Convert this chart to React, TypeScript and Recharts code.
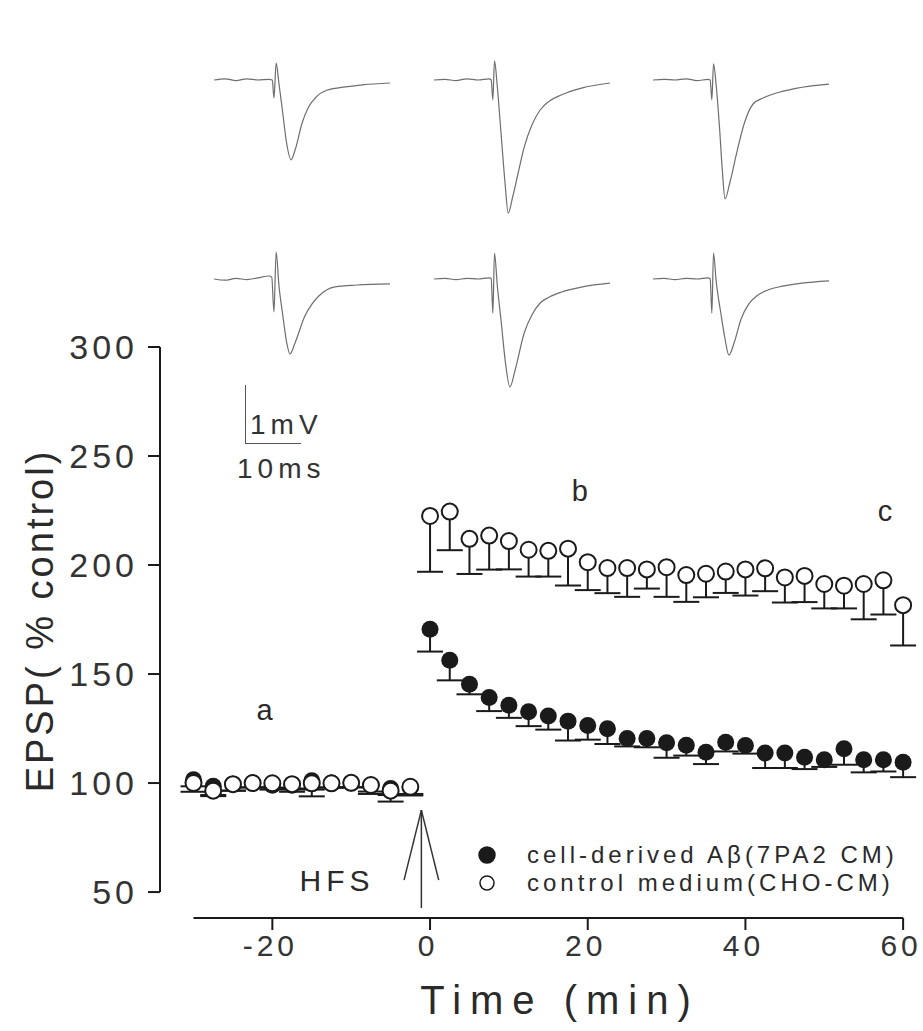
import React from "react"
import {
  ErrorBar,
  Legend,
  Line,
  LineChart,
  ReferenceDot,
  ReferenceLine,
  Scatter,
  ScatterChart,
  XAxis,
  YAxis,
} from "recharts"

const FONT = '"Liberation Sans", Arial, sans-serif'
const INK = "#1a1a1a"

// time points (min) relative to HFS
const minutes = [
  -30, -27.5, -25, -22.5, -20, -17.5, -15, -12.5, -10, -7.5, -5, -2.5,
  0, 2.5, 5, 7.5, 10, 12.5, 15, 17.5, 20, 22.5, 25, 27.5, 30, 32.5, 35, 37.5,
  40, 42.5, 45, 47.5, 50, 52.5, 55, 57.5, 60,
]

// cell-derived Abeta (7PA2 CM), filled circles
const abMean = [
  101.5, 98.5, 99.5, 100, 99, 99, 101, 100, 100, 99, 97.5, 98,
  170.5, 156.3, 145.3, 139.2, 135.7, 132.7, 130.7, 128.4, 126.4, 124.9, 120.4,
  120.4, 118.5, 117.3, 114.1, 118.7, 117.2, 113.8, 113.8, 111.8, 110.7, 115.7,
  110.7, 110.7, 109.5,
]
const abSem = [
  3, 4, 3, 2, 2, 3, 4, 2, 2, 4, 3, 3,
  10.2, 9.2, 4.6, 6.2, 5.8, 6.6, 6.2, 8.9, 6.5, 7, 3.6, 4, 6.9, 4.7, 5.4, 4.2,
  3.7, 6.9, 6.9, 5.4, 3.3, 7.3, 5.8, 5.4, 6.8,
]

// control medium (CHO-CM), open circles
const choMean = [
  100, 96.5, 99.5, 100, 99.9, 99.5, 99.9, 99.9, 100.1, 99.1, 96.5, 98.3,
  222.5, 224.5, 212, 213.5, 211, 207, 206.5, 207.5, 201.3, 198.6, 198.6, 198,
  199, 195.4, 196, 197, 198, 198.5, 194.3, 195, 191.3, 190.5, 191.3, 193, 181.6,
]
const choSem = [
  4, 2.5, 3, 2, 2, 2, 6, 2, 2, 3, 5, 4,
  25.6, 17.7, 16.1, 15.6, 13, 12.3, 11.8, 16.9, 12.8, 11.5, 13.2, 8.8, 13.6,
  12.3, 10.8, 9.8, 12, 10.5, 11.5, 12, 11.2, 10.4, 16.2, 15.7, 18.5,
]

const xTicks = [-20, 0, 20, 40, 60]
const yTicks = [50, 100, 150, 200, 250, 300]

// example fEPSP traces (ms, mV) at time points a, b, c
const topA = {
  t: [0, 2, 4, 6, 8, 10, 10.6, 10.9, 11.3, 11.8, 12.5, 13.2, 14, 14.8, 16, 17.2, 18.4, 20.5, 23.5, 27, 32],
  v: [0, 0.02, -0.01, 0.02, 0, 0.01, 0, -0.3, 0.28, -0.05, -0.55, -1.05, -1.33, -1.15, -0.72, -0.45, -0.3, -0.17, -0.12, -0.08, -0.05],
}
const topB = {
  t: [0, 2, 4, 6, 8, 10, 10.4, 10.7, 11, 11.5, 12.2, 12.9, 13.5, 14.3, 15.3, 16.4, 17.8, 19.3, 21, 23.1, 27, 32],
  v: [0, 0.01, -0.01, 0.02, 0, 0.02, 0, -0.33, 0.32, -0.1, -0.9, -1.7, -2.22, -1.95, -1.55, -1.12, -0.75, -0.5, -0.35, -0.25, -0.13, -0.05],
}
const topC = {
  t: [0, 2, 4, 6, 8, 10, 10.4, 10.7, 11, 11.5, 12.1, 12.6, 13.1, 14, 15.3, 16.6, 18.2, 20, 22, 26, 32],
  v: [0, 0.01, 0, 0.02, -0.01, 0.01, 0, -0.33, 0.27, -0.1, -0.8, -1.5, -1.98, -1.7, -1.18, -0.72, -0.4, -0.3, -0.23, -0.14, -0.07],
}
const botA = {
  t: [0, 2, 4, 6, 8, 10, 10.5, 10.9, 11.3, 11.8, 12.5, 13.2, 13.8, 14.8, 16.5, 17.8, 19.1, 22, 26, 32],
  v: [0, -0.02, 0.01, -0.01, 0.02, 0.05, 0.03, -0.55, 0.45, -0.1, -0.6, -1.05, -1.25, -1.05, -0.62, -0.42, -0.28, -0.13, -0.1, -0.08],
}
const botB = {
  t: [0, 2, 4, 6, 8, 10, 10.4, 10.7, 11, 11.5, 12.2, 13, 13.8, 14.8, 16.4, 17.8, 19.3, 21, 23.1, 27, 32],
  v: [0, 0.01, -0.01, 0.01, 0, 0.02, 0.01, -0.57, 0.43, -0.1, -0.7, -1.4, -1.8, -1.5, -0.9, -0.6, -0.4, -0.3, -0.22, -0.13, -0.07],
}
const botC = {
  t: [0, 2, 4, 6, 8, 10, 10.4, 10.7, 11, 11.5, 12.3, 13.1, 13.8, 14.8, 16, 17.4, 18.9, 21, 23.5, 27, 32],
  v: [0, 0.01, -0.01, 0.01, 0, 0.02, 0, -0.57, 0.43, -0.05, -0.55, -1, -1.27, -1.05, -0.67, -0.42, -0.28, -0.18, -0.12, -0.07, -0.03],
}

const traces = [
  { trace: topA, left: 214, top: 50 },
  { trace: topB, left: 434, top: 50 },
  { trace: topC, left: 653, top: 50 },
  { trace: botA, left: 214, top: 249 },
  { trace: botB, left: 434, top: 249 },
  { trace: botC, left: 653, top: 249 },
]

// only the lower half of each error bar is drawn
const abData = minutes.map((t, i) => ({ t, y: abMean[i], err: [abSem[i], 0] }))
const choData = minutes.map((t, i) => ({ t, y: choMean[i], err: [choSem[i], 0] }))

const legendItems = [
  { name: "cell-derived Aβ(7PA2 CM)", filled: true },
  { name: "control medium(CHO-CM)", filled: false },
]

function Trace({ trace, left, top }: { trace: { t: number[]; v: number[] }; left: number; top: number }) {
  const data = trace.t.map((t, i) => ({ t, v: trace.v[i] }))
  return (
    <div style={{ position: "absolute", left, top }}>
      <LineChart width={176} height={174} data={data} margin={{ top: 0, right: 0, bottom: 0, left: 0 }}>
        <XAxis dataKey="t" type="number" domain={[0, 32]} hide />
        <YAxis type="number" domain={[-2.4, 0.5]} hide />
        <Line
          dataKey="v"
          type="monotone"
          stroke="#6e6e6e"
          strokeWidth={1.2}
          dot={false}
          isAnimationActive={false}
        />
      </LineChart>
    </div>
  )
}

const filledDot = (p: any) => <circle cx={p.cx} cy={p.cy} r={8.5} fill={INK} />
const openDot = (p: any) => (
  <circle cx={p.cx} cy={p.cy} r={8} fill="#fff" stroke={INK} strokeWidth={2} />
)

const note = (text: string, size: number, spacing = 0) => (p: any) => (
  <text
    x={p.cx}
    y={p.cy}
    textAnchor="middle"
    dominantBaseline="central"
    fontFamily={FONT}
    fontSize={size}
    letterSpacing={spacing}
    fill="#2a2a2a"
  >
    {text}
  </text>
)

// x tick label, nudged so trailing letter-spacing does not shift it
const XTick = (p: any) => (
  <text
    x={p.x - 2}
    y={p.y + 24}
    textAnchor="middle"
    fontFamily={FONT}
    fontSize={30}
    letterSpacing={4}
    fill="#333"
  >
    {p.payload.value}
  </text>
)

function LegendBox() {
  return (
    <div style={{ fontFamily: FONT, fontSize: 24, letterSpacing: 4, color: "#2a2a2a", lineHeight: "28px" }}>
      {legendItems.map((item) => (
        <div key={item.name} style={{ display: "flex", alignItems: "center" }}>
          <svg width={52} height={28}>
            <circle
              cx={12}
              cy={14}
              r={item.filled ? 8 : 7}
              fill={item.filled ? INK : "#fff"}
              stroke={INK}
              strokeWidth={1.5}
            />
          </svg>
          <span>{item.name}</span>
        </div>
      ))}
    </div>
  )
}

export default function App() {
  const yTickStyle = { fontSize: 34, fill: "#333", fontFamily: FONT, letterSpacing: 4 }
  return (
    <div style={{ position: "absolute", left: 0, top: 0, width: 923, height: 1031, background: "#fff" }}>
      <style>{`.recharts-errorBar > line:nth-of-type(1) { display: none; }`}</style>
      {traces.map((tr, i) => (
        <Trace key={i} {...tr} />
      ))}

      {/* scale bar for traces */}
      <div
        style={{
          position: "absolute",
          left: 245,
          top: 385,
          width: 55,
          height: 58,
          borderLeft: "1.5px solid #555",
          borderBottom: "1.5px solid #555",
        }}
      />
      <div style={{ position: "absolute", left: 250, top: 409, fontFamily: FONT, fontSize: 28, letterSpacing: 5, color: "#333" }}>
        1mV
      </div>
      <div style={{ position: "absolute", left: 237, top: 453, fontFamily: FONT, fontSize: 28, letterSpacing: 5, color: "#333" }}>
        10ms
      </div>

      <div style={{ position: "absolute", left: 0, top: 0 }}>
        <ScatterChart width={923} height={1031} margin={{ top: 347, right: 12, bottom: 53, left: 60 }}>
          <XAxis
            dataKey="t"
            type="number"
            domain={[-34.25, 61]}
            ticks={xTicks}
            axisLine={false}
            tickSize={12}
            tickLine={{ stroke: INK, strokeWidth: 2 }}
            tick={XTick}
            height={60}
            label={(p: any) => {
              const vb = p.viewBox
              return (
                <text
                  x={vb.x + 400}
                  y={vb.y + 96}
                  textAnchor="middle"
                  fontFamily={FONT}
                  fontSize={40}
                  letterSpacing={9}
                  fill="#2a2a2a"
                >
                  Time (min)
                </text>
              )
            }}
          />
          <YAxis
            dataKey="y"
            type="number"
            domain={[38.1, 300]}
            ticks={yTicks}
            axisLine={false}
            tickSize={12}
            tickMargin={10}
            tickLine={{ stroke: INK, strokeWidth: 2 }}
            tick={yTickStyle}
            width={100}
            label={(p: any) => {
              const vb = p.viewBox
              const x = vb.x - 20
              const y = vb.y + vb.height / 2 - 12
              return (
                <text
                  x={x}
                  y={y}
                  transform={`rotate(-90 ${x} ${y})`}
                  textAnchor="middle"
                  dominantBaseline="central"
                  fontFamily={FONT}
                  fontSize={38}
                  letterSpacing={3}
                  fill="#2a2a2a"
                >
                  EPSP( % control)
                </text>
              )
            }}
          />

          {/* offset axis lines */}
          <ReferenceLine
            segment={[{ x: -34.25, y: 50 }, { x: -34.25, y: 300 }]}
            stroke={INK}
            strokeWidth={2}
            ifOverflow="visible"
          />
          <ReferenceLine
            segment={[{ x: -30, y: 38.1 }, { x: 60, y: 38.1 }]}
            stroke={INK}
            strokeWidth={2}
            ifOverflow="visible"
          />

          {/* HFS arrow */}
          <ReferenceLine segment={[{ x: -1.1, y: 87.6 }, { x: -1.1, y: 42.7 }]} stroke="#333" strokeWidth={1.5} ifOverflow="visible" />
          <ReferenceLine segment={[{ x: -1.1, y: 87.6 }, { x: -3.3, y: 55.5 }]} stroke="#333" strokeWidth={1.5} ifOverflow="visible" />
          <ReferenceLine segment={[{ x: -1.1, y: 87.6 }, { x: 1.1, y: 55.5 }]} stroke="#333" strokeWidth={1.5} ifOverflow="visible" />

          <Scatter data={abData} dataKey="y" shape={filledDot} isAnimationActive={false}>
            <ErrorBar dataKey="err" direction="y" width={13} stroke={INK} strokeWidth={2} />
          </Scatter>
          <Scatter data={choData} dataKey="y" shape={openDot} isAnimationActive={false}>
            <ErrorBar dataKey="err" direction="y" width={13} stroke={INK} strokeWidth={2} />
          </Scatter>

          <ReferenceDot x={-21} y={133.5} r={0} shape={note("a", 29)} ifOverflow="visible" />
          <ReferenceDot x={19} y={234} r={0} shape={note("b", 29)} ifOverflow="visible" />
          <ReferenceDot x={57.7} y={225} r={0} shape={note("c", 29)} ifOverflow="visible" />
          <ReferenceDot x={-11.8} y={55.5} r={0} shape={note("HFS", 30, 5)} ifOverflow="visible" />

          <Legend
            layout="vertical"
            align="center"
            verticalAlign="middle"
            wrapperStyle={{ position: "absolute", left: 475, top: 841, width: 440 }}
            content={() => <LegendBox />}
          />
        </ScatterChart>
      </div>
    </div>
  )
}
